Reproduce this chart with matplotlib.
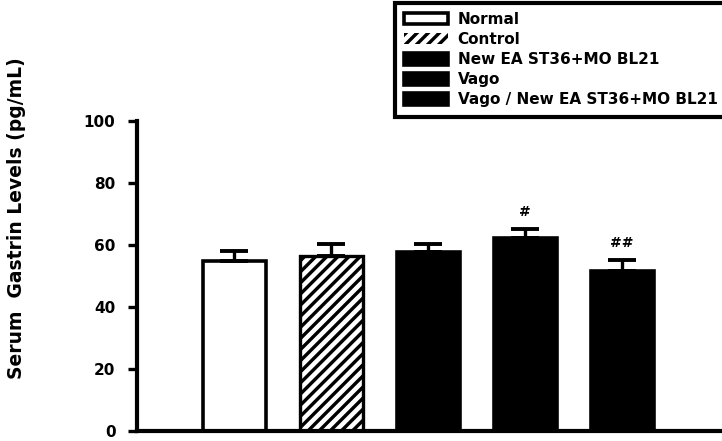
import matplotlib
matplotlib.use("Agg")
import matplotlib.pyplot as plt

groups = ["Normal", "Control", "New EA ST36+MO BL21", "Vago", "Vago / New EA ST36+MO BL21"]
means = [54.8, 56.5, 57.7, 62.1, 51.6]
errors = [3.1, 3.7, 2.4, 3.1, 3.5]
marks = ["", "", "", "#", "##"]
mark_y = [0, 0, 0, 70.6, 60.5]
yticks = [0, 20, 40, 60, 80, 100]
ylabel = "Serum  Gastrin Levels (pg/mL)"

plt.rcParams['font.family'] = ['DejaVu Sans']
plt.rcParams['font.weight'] = 'bold'
plt.rcParams['hatch.color'] = 'white'
plt.rcParams['hatch.linewidth'] = 3.2

fig = plt.figure(figsize=(7.22, 4.41), dpi=100)
ax = fig.add_axes([137/722, 1 - 430.7/441, 1 - 137/722, (430.7 - 120.7)/441])

x = list(range(len(groups)))
w = 0.65
faces = ['white', 'black', 'black', 'black', 'black']
hatches = [None, '///', None, None, None]
handles = []
for i in x:
    if hatches[i]:
        b = ax.bar(x[i], means[i], width=w, color=faces[i], hatch=hatches[i],
                   label=groups[i], zorder=2)
        ax.bar(x[i], means[i], width=w, fill=False, edgecolor='black', linewidth=2.4, zorder=3)
    else:
        b = ax.bar(x[i], means[i], width=w, color=faces[i], edgecolor='black',
                   linewidth=2.6, label=groups[i], zorder=2)
    handles.append(b)

ax.errorbar(x, means, yerr=[[0]*len(x), errors], fmt='none', ecolor='black',
            elinewidth=2.4, capsize=10, capthick=2.8, zorder=4)

for i in x:
    if marks[i]:
        ax.text(x[i], mark_y[i], marks[i], ha='center', va='center',
                fontsize=10, fontweight='bold')

ax.set_xlim(-1.005, 5.03)
ax.set_ylim(0, 100)
ax.set_yticks(yticks)
ax.set_yticklabels([str(t) for t in yticks], fontsize=11, fontweight='bold')
ax.set_xticks([])
ax.tick_params(axis='y', direction='out', length=6.5, width=2.4, pad=9)
for s in ['top', 'right']:
    ax.spines[s].set_visible(False)
for s in ['left', 'bottom']:
    ax.spines[s].set_linewidth(3)

fig.text(17/722, 1 - 218/441, ylabel, rotation=90, ha='center', va='center',
         fontsize=13.5, fontweight='bold')

leg = ax.legend(handles=handles, labels=groups, loc='upper left',
                bbox_to_anchor=(395/722, 1 - 3/441), bbox_transform=fig.transFigure,
                fontsize=11, handlelength=2.85, handleheight=0.75, handletextpad=0.65,
                labelspacing=0.33, borderpad=0.6, fancybox=False, framealpha=1,
                edgecolor='black', borderaxespad=0)
leg.get_frame().set_linewidth(3)
for t in leg.get_texts():
    t.set_fontweight('bold')

fig.savefig("out.png", dpi=100)
